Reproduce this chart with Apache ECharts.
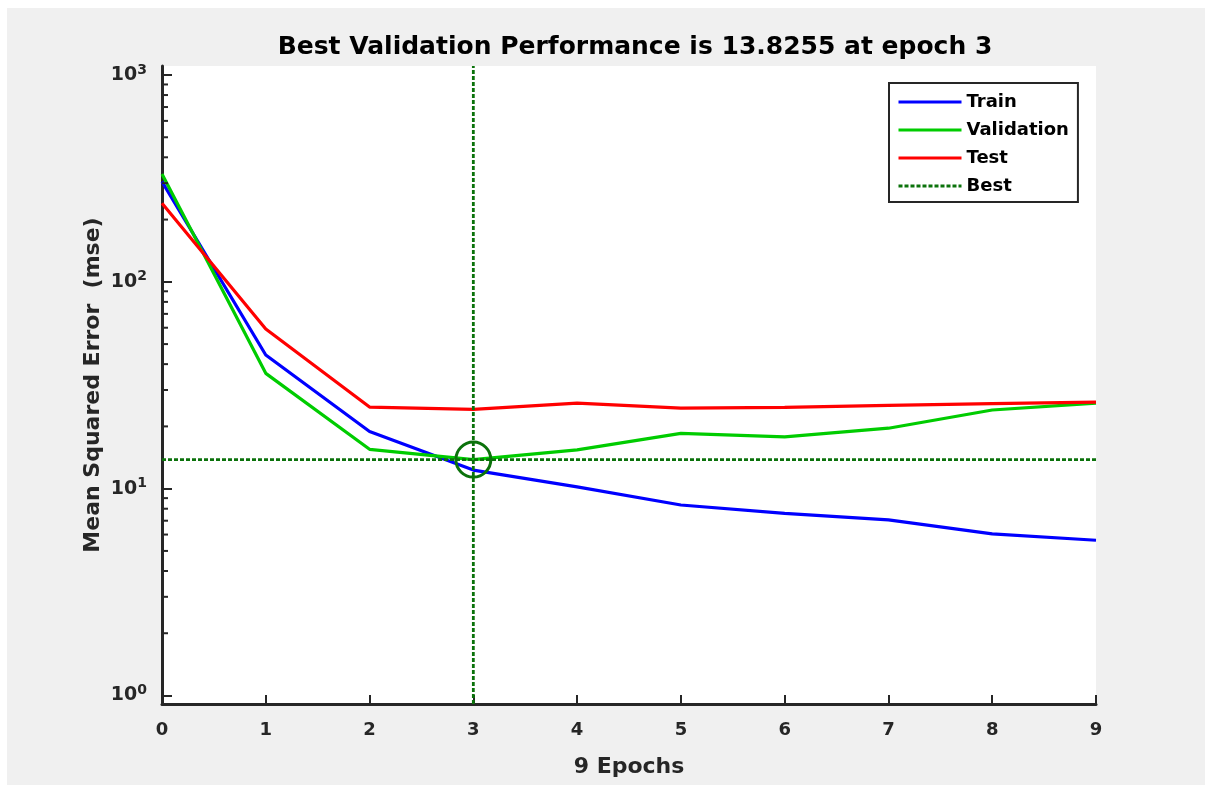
<!DOCTYPE html>
<html>
<head>
<meta charset="utf-8">
<script src="https://cdn.jsdelivr.net/npm/echarts@6/dist/echarts.min.js"></script>
<style>
  html, body { margin: 0; padding: 0; background: #ffffff; }
  #chart { width: 1205px; height: 785px; }
</style>
</head>
<body>
<div id="chart"></div>
<script>
// ---- data ----
const epochs = [0, 1, 2, 3, 4, 5, 6, 7, 8, 9];
const trainMSE = [305, 44.3, 18.9, 12.3, 10.2, 8.34, 7.6, 7.06, 6.04, 5.63];
const validationMSE = [332, 36.1, 15.5, 13.8255, 15.4, 18.5, 17.8, 19.6, 24.0, 25.9];
const testMSE = [240, 59.2, 24.8, 24.2, 25.9, 24.5, 24.7, 25.3, 25.8, 26.2];
const bestEpoch = 3;
const bestValue = 13.8255;
const xTickLabels = ['0', '1', '2', '3', '4', '5', '6', '7', '8', '9'];
const yMajorTicks = [1, 10, 100, 1000];
const yMinorTicks = [2, 3, 4, 5, 6, 7, 8, 9, 20, 30, 40, 50, 60, 70, 80, 90, 200, 300, 400, 500, 600, 700, 800, 900];
const titleText = 'Best Validation Performance is 13.8255 at epoch 3';
const xName = '9 Epochs';
const yName = 'Mean Squared Error  (mse)';
const legendNames = ['Train', 'Validation', 'Test', 'Best'];

// ---- build ----
const FONT = 'DejaVu Sans';
const AX = '#262626';
const BEST_C = '#0b720b';
const pairs = (arr) => arr.map((v, i) => [epochs[i], v]);

const chart = echarts.init(document.getElementById('chart'), null, { renderer: 'canvas' });
const option = {
  animation: false,
  backgroundColor: '#f0f0f0',
  graphic: [
    { type: 'rect', shape: { x: 0, y: 0, width: 1205, height: 8 }, style: { fill: '#ffffff' }, z: -10, silent: true },
    { type: 'rect', shape: { x: 0, y: 0, width: 7, height: 785 }, style: { fill: '#ffffff' }, z: -10, silent: true }
  ],
  title: {
    text: titleText,
    left: 630,
    top: 30,
    textAlign: 'center',
    textStyle: { fontFamily: FONT, fontWeight: 'bold', fontSize: 25, color: '#000000' }
  },
  legend: {
    data: legendNames,
    orient: 'vertical',
    left: 889,
    top: 83,
    padding: [10, 9, 7, 8],
    itemGap: 10,
    itemWidth: 63,
    itemHeight: 14,
    backgroundColor: '#ffffff',
    borderColor: AX,
    borderWidth: 2,
    borderRadius: 0,
    selectedMode: false,
    itemStyle: { opacity: 0, borderWidth: 0 },
    lineStyle: { width: 3 },
    textStyle: { fontFamily: FONT, fontWeight: 'bold', fontSize: 18, color: '#000000' },
    z: 20
  },
  grid: [
    { left: 162, right: 109, top: 75, bottom: 89.5, show: false },
    { left: 162, right: 109, top: 66, bottom: 81, show: true, backgroundColor: '#ffffff', borderWidth: 0, z: -1 }
  ],
  xAxis: [
    { type: 'value', gridIndex: 0, min: 0, max: 9, interval: 1, show: false },
    {
      type: 'value', gridIndex: 1, min: 0, max: 9, interval: 1,
      name: xName, nameLocation: 'middle', nameGap: 52,
      nameTextStyle: { fontFamily: FONT, fontWeight: 'bold', fontSize: 22, color: AX },
      axisLine: { show: true, lineStyle: { color: AX, width: 3 } },
      axisTick: { show: true, inside: true, length: 9, lineStyle: { color: AX, width: 2 } },
      axisLabel: {
        margin: 17, fontFamily: FONT, fontWeight: 'bold', fontSize: 18, color: AX,
        formatter: (v) => xTickLabels[Math.round(v)]
      },
      splitLine: { show: false }
    }
  ],
  yAxis: [
    {
      type: 'log', logBase: 10, gridIndex: 0, min: 1, max: 1000,
      axisLine: { show: false },
      axisTick: { show: true, inside: true, length: 10, lineStyle: { color: AX, width: 2 } },
      axisLabel: {
        margin: 15,
        formatter: (v) => {
          const e = Math.round(Math.log10(v));
          return yMajorTicks.indexOf(Math.pow(10, e)) >= 0 ? '{b|10}{s|' + e + '}' : '';
        },
        rich: {
          b: { fontFamily: FONT, fontWeight: 'bold', fontSize: 19, color: AX, lineHeight: 24 },
          s: { fontFamily: FONT, fontWeight: 'bold', fontSize: 14, color: AX, lineHeight: 14, verticalAlign: 'top' }
        }
      },
      splitLine: { show: false },
      minorTick: { show: false }
    },
    {
      type: 'value', gridIndex: 1, min: 0, max: 1,
      name: yName, nameLocation: 'middle', nameGap: 58, nameRotate: 90,
      nameTextStyle: { fontFamily: FONT, fontWeight: 'bold', fontSize: 22, color: AX },
      axisLine: { show: true, lineStyle: { color: AX, width: 3 } },
      axisTick: { show: false },
      axisLabel: { show: false },
      splitLine: { show: false }
    }
  ],
  series: [
    {
      name: 'Train', type: 'line', xAxisIndex: 0, yAxisIndex: 0,
      data: pairs(trainMSE), symbol: 'none', smooth: false,
      lineStyle: { color: '#0000ff', width: 3.2 }, itemStyle: { color: '#0000ff' }, z: 3
    },
    {
      name: 'Validation', type: 'line', xAxisIndex: 0, yAxisIndex: 0,
      data: pairs(validationMSE), symbol: 'none', smooth: false,
      lineStyle: { color: '#00cc00', width: 3.2 }, itemStyle: { color: '#00cc00' }, z: 3
    },
    {
      name: 'Test', type: 'line', xAxisIndex: 0, yAxisIndex: 0,
      data: pairs(testMSE), symbol: 'none', smooth: false,
      lineStyle: { color: '#ff0000', width: 3.2 }, itemStyle: { color: '#ff0000' }, z: 3
    },
    {
      name: 'Best', type: 'line', xAxisIndex: 0, yAxisIndex: 0,
      data: [[epochs[0], bestValue], [epochs[epochs.length - 1], bestValue]],
      symbol: 'none', silent: true,
      lineStyle: { color: BEST_C, width: 2.8, type: [4, 2] }, itemStyle: { color: BEST_C }, z: 4
    },
    {
      name: 'Best', type: 'line', xAxisIndex: 1, yAxisIndex: 1,
      data: [[bestEpoch, 0], [bestEpoch, 1]],
      symbol: 'none', silent: true,
      lineStyle: { color: BEST_C, width: 2.8, type: [4, 2] }, itemStyle: { color: BEST_C }, z: 4
    },
    {
      name: 'BestPoint', type: 'scatter', xAxisIndex: 0, yAxisIndex: 0,
      data: [[bestEpoch, bestValue]], symbol: 'circle', symbolSize: 35, silent: true,
      itemStyle: { color: 'rgba(0,0,0,0)', borderColor: BEST_C, borderWidth: 3, opacity: 1 }, z: 5
    },
    {
      name: 'minorTicks', type: 'custom', xAxisIndex: 0, yAxisIndex: 0, silent: true,
      data: yMinorTicks.map((v) => [0, v]),
      renderItem: (params, api) => {
        const p = api.coord([api.value(0), api.value(1)]);
        return {
          type: 'line',
          shape: { x1: p[0], y1: p[1], x2: p[0] + 6, y2: p[1] },
          style: { stroke: AX, lineWidth: 2 }
        };
      },
      z: 6
    }
  ]
};
chart.setOption(option);
</script>
</body>
</html>
